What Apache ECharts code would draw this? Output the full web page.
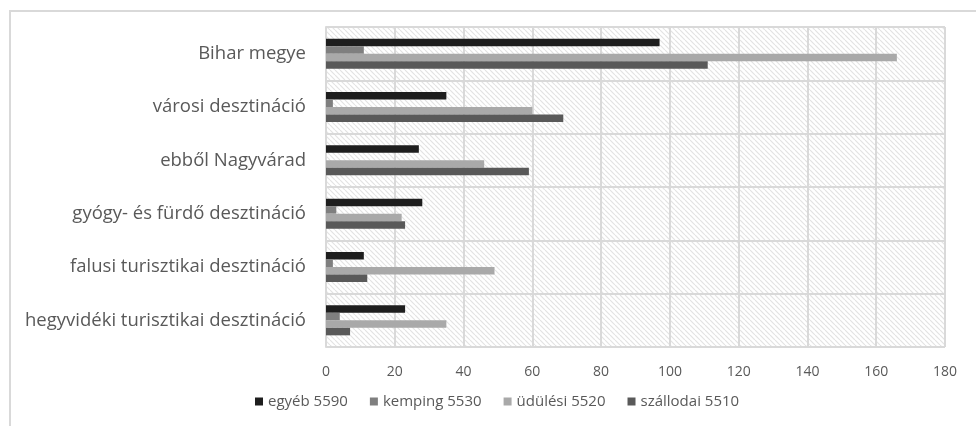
<!DOCTYPE html>
<html>
<head>
<meta charset="utf-8">
<script src="https://cdn.jsdelivr.net/npm/echarts@6/dist/echarts.min.js"></script>
<style>
html,body{margin:0;padding:0;background:#fff;}
#c{width:976px;height:426px;position:relative;}
#frame{position:absolute;left:9px;top:10px;right:0;bottom:0;border-left:2px solid #d9d9d9;border-top:2px solid #d9d9d9;pointer-events:none;}
</style>
</head>
<body>
<div id="c"></div>
<div id="frame" style="position:absolute;"></div>
<script>
// categories top-to-bottom
const categories = [
  "Bihar megye",
  "városi desztináció",
  "ebből Nagyvárad",
  "gyógy- és fürdő desztináció",
  "falusi turisztikai desztináció",
  "hegyvidéki turisztikai desztináció"
];
const seriesNames = ["egyéb 5590", "kemping 5530", "üdülési 5520", "szállodai 5510"];
const egyeb     = [97, 35, 27, 28, 11, 23];
const kemping   = [11, 2, 0, 3, 2, 4];
const udulesi   = [166, 60, 46, 22, 49, 35];
const szallodai = [111, 69, 59, 23, 12, 7];
const xTicks = { min: 0, max: 180, interval: 20 };
const colors = ["#1e1e1e", "#7f7f7f", "#a9a9a9", "#595959"];

const pat = document.createElement('canvas');
pat.width = 5; pat.height = 5;
const g = pat.getContext('2d');
g.fillStyle = '#ffffff'; g.fillRect(0,0,5,5);
g.strokeStyle = '#e3e3e3'; g.lineWidth = 1.2;
for (let k = -5; k <= 5; k += 5) {
  g.beginPath(); g.moveTo(k, 0); g.lineTo(k + 5, 5); g.stroke();
}

const chart = echarts.init(document.getElementById('c'));
const data = [egyeb, kemping, udulesi, szallodai];
chart.setOption({
  animation: false,
  textStyle: { fontFamily: 'Open Sans' },
  grid: { left: 326, right: 31, top: 27, bottom: 79, show: true,
          backgroundColor: { image: pat, repeat: 'repeat' }, borderWidth: 0 },
  legend: {
    data: seriesNames, left: 250, top: 389, itemWidth: 8, itemHeight: 8,
    itemGap: 22, icon: 'rect',
    textStyle: { color: '#595959', fontSize: 15, fontFamily: 'Open Sans' }
  },
  xAxis: {
    type: 'value', min: xTicks.min, max: xTicks.max, interval: xTicks.interval,
    axisLine: { show: false }, axisTick: { show: false },
    axisLabel: { color: '#595959', fontSize: 14, margin: 18 },
    splitLine: { show: true, lineStyle: { color: '#d9d9d9', width: 2 } }
  },
  yAxis: {
    type: 'category', data: categories, inverse: true,
    axisLine: { show: true, lineStyle: { color: '#d9d9d9', width: 2 } },
    axisTick: { show: false },
    axisLabel: { color: '#595959', fontSize: 18.5, margin: 20 },
    splitLine: { show: true, lineStyle: { color: '#d9d9d9', width: 2 } }
  },
  series: seriesNames.map((n, i) => ({
    name: n, type: 'bar', data: data[i], barWidth: 7.5, barGap: '0%',
    itemStyle: { color: colors[i] }
  }))
});
</script>
</body>
</html>
